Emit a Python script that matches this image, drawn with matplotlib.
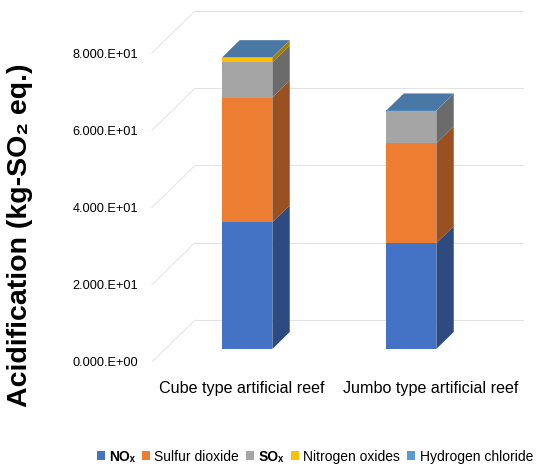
"""
Acidification impact of two artificial reef types, drawn as Excel-style 3D stacked columns.
"""

import matplotlib
matplotlib.use("Agg")
import matplotlib.pyplot as plt
from matplotlib.patches import Polygon, Patch
from matplotlib.ticker import FuncFormatter

plt.rcParams["font.family"] = ["Liberation Sans", "DejaVu Sans"]

categories = ["Cube type artificial reef", "Jumbo type artificial reef"]
series_names = ["NOₓ", "Sulfur dioxide", "SOₓ", "Nitrogen oxides", "Hydrogen chloride"]
nox = [32.8, 27.4]
sulfur_dioxide = [32.3, 25.9]
sox = [9.1, 8.4]
nitrogen_oxides = [1.3, 0.02]
hydrogen_chloride = [0.05, 0.03]
y_ticks = [0, 20, 40, 60, 80]

front_colors = ["#4472C4", "#ED7D31", "#A5A5A5", "#FFC000", "#5B9BD5"]
side_colors = ["#2D4B81", "#9A5122", "#6B6B6B", "#A67D00", "#3D6A94"]
top_color = "#4A78A5"
grid_color = "#E2E2E2"

# oblique projection of the chart depth, in data units
DX = 0.262
DY = 10.88
BAR_FRONT = 0.31   # depth at which the front face of each column sits
BAR_DEPTH = 0.405  # column depth as a fraction of the floor depth
BAR_WIDTH = 0.305

fig = plt.figure(figsize=(5.38, 4.66), dpi=100)
ax = fig.add_axes([152 / 538, 104 / 466, 371 / 538, 351 / 466])
ax.set_xlim(-0.5, 1.5 + DX)
ax.set_ylim(0, 80 + DY)

# back wall gridlines and the diagonals on the side wall
for v in y_ticks:
    ax.plot([-0.5 + DX, 1.5 + DX], [v + DY, v + DY], color=grid_color, lw=0.7,
            clip_on=False, zorder=1)
    ax.plot([-0.5, -0.5 + DX], [v, v + DY], color=grid_color, lw=0.7,
            clip_on=False, zorder=1)

series = [nox, sulfur_dioxide, sox, nitrogen_oxides, hydrogen_chloride]
x_front = [i + BAR_FRONT * DX for i in range(len(categories))]
y_shift = BAR_FRONT * DY
bx = BAR_DEPTH * DX
by = BAR_DEPTH * DY

bottoms = [0.0] * len(categories)
for values, fc, sc in zip(series, front_colors, side_colors):
    ax.bar(x_front, values, width=BAR_WIDTH, bottom=[b + y_shift for b in bottoms],
           color=fc, linewidth=0, zorder=3)
    for i, v in enumerate(values):
        xr = x_front[i] + BAR_WIDTH / 2
        y0 = bottoms[i] + y_shift
        y1 = y0 + v
        side = Polygon([(xr, y0), (xr + bx, y0 + by), (xr + bx, y1 + by), (xr, y1)],
                       closed=True, facecolor=sc, edgecolor="none", zorder=3)
        ax.add_patch(side)
    bottoms = [b + v for b, v in zip(bottoms, values)]

# lid of each column
for i, total in enumerate(bottoms):
    xl = x_front[i] - BAR_WIDTH / 2
    xr = x_front[i] + BAR_WIDTH / 2
    yt = total + y_shift
    lid = Polygon([(xl, yt), (xr, yt), (xr + bx, yt + by), (xl + bx, yt + by)],
                  closed=True, facecolor=top_color, edgecolor="none", zorder=4)
    ax.add_patch(lid)

ax.set_yticks(y_ticks)
ax.yaxis.set_major_formatter(FuncFormatter(
    lambda v, pos: "{:.3f}.E{:+03d}".format(*((v / 10, 1) if v else (0.0, 0)))))
ax.tick_params(axis="y", length=0, pad=10, labelsize=9.2, labelcolor="#000000")

ax.set_xticks([0.05, 1.2])
ax.set_xticklabels(categories)
ax.tick_params(axis="x", length=0, pad=14, labelsize=11.6)

for s in ax.spines.values():
    s.set_visible(False)

fig.text(20 / 538, 0.496, "Acidification (kg-SO₂ eq.)", rotation=90,
         ha="center", va="center", fontsize=20.5, fontweight="bold")

handles = [Patch(facecolor=c, edgecolor="none") for c in front_colors]
leg = fig.legend(handles, series_names, loc="center", bbox_to_anchor=(0.585, 0.02),
                 ncol=5, frameon=False, fontsize=10, handlelength=0.6,
                 handleheight=0.6, handletextpad=0.3, columnspacing=0.5,
                 borderaxespad=0, borderpad=0)
for t in leg.get_texts():
    if t.get_text() in ("NOₓ", "SOₓ"):
        t.set_fontweight("bold")

fig.savefig("out.png", dpi=100)
